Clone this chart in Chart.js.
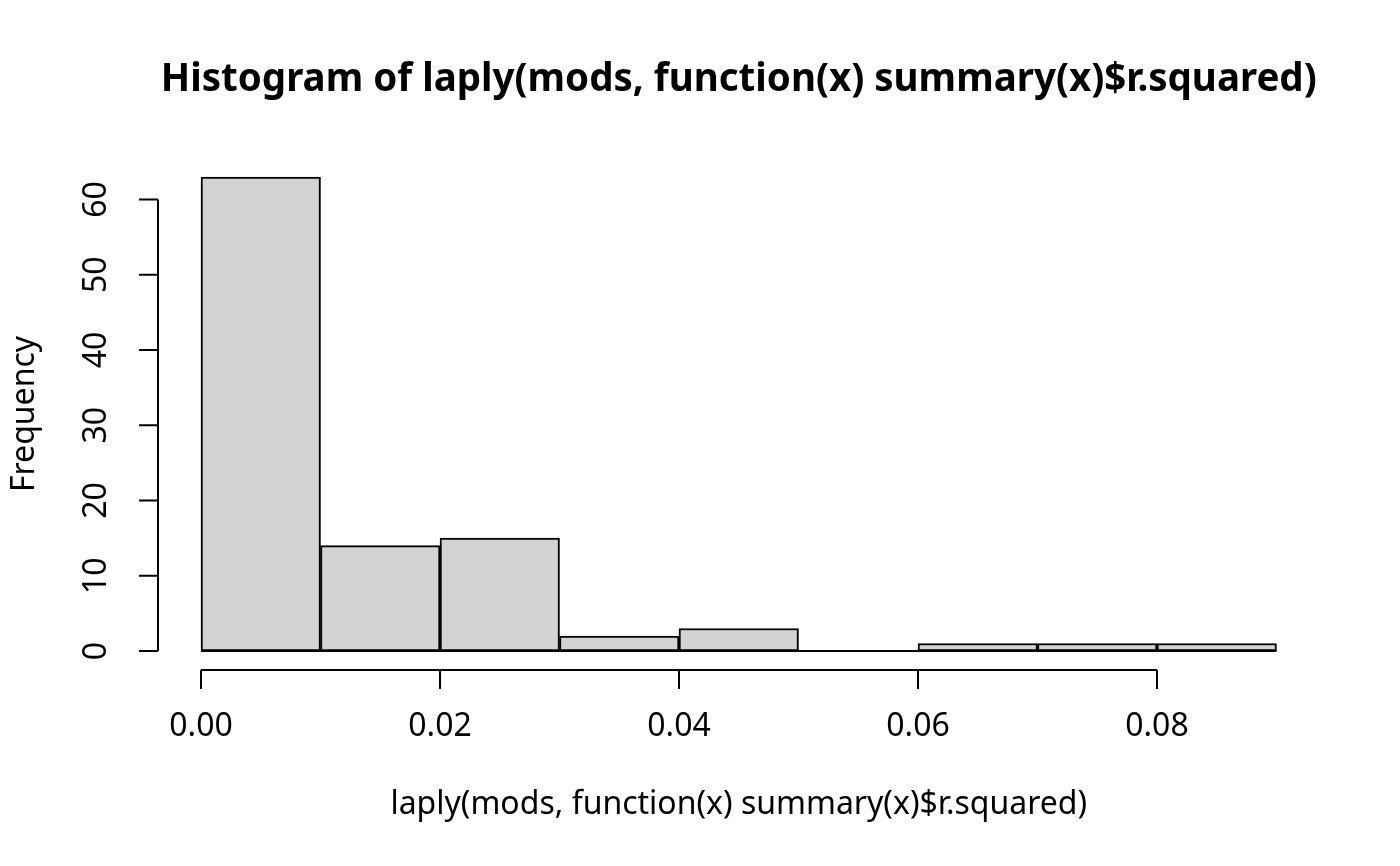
<!DOCTYPE html>
<html>
<head>
<meta charset="utf-8">
<script src="https://cdn.jsdelivr.net/npm/chart.js@4.4.1/dist/chart.umd.min.js"></script>
<style>
  html, body { margin: 0; padding: 0; background: #fff; }
  canvas { display: block; }
</style>
</head>
<body>
<canvas id="hist" width="1400" height="866"></canvas>
<script>
// histogram bins (width 0.01) and counts
const binStarts = [0.00, 0.01, 0.02, 0.03, 0.04, 0.05, 0.06, 0.07, 0.08]
const counts = [63, 14, 15, 2, 3, 0, 1, 1, 1]
const binWidth = 0.01

const xTicks = [0.00, 0.02, 0.04, 0.06, 0.08]
const yTicks = [0, 10, 20, 30, 40, 50, 60]

const mainTitle = "Histogram of laply(mods, function(x) summary(x)$r.squared)"
const xTitle = "laply(mods, function(x) summary(x)$r.squared)"
const yTitle = "Frequency"

const FONT = "'Noto Sans', 'Open Sans', sans-serif"
const axisSize = 32
const titleSize = 38.5

// R pads the data range by 4% on each side
const xLo = binStarts[0], xHi = binStarts[binStarts.length - 1] + binWidth
const yLo = 0, yHi = Math.max(...counts)
const xPad = (xHi - xLo) * 0.04, yPad = (yHi - yLo) * 0.04

const points = binStarts.map((s, i) => ({ x: s + binWidth / 2, y: counts[i] }))

const rAxes = {
  id: 'rAxes',
  afterDraw(chart) {
    const ctx = chart.ctx
    const area = chart.chartArea
    const xs = chart.scales.x
    const ys = chart.scales.y
    const tick = 19

    ctx.save()
    ctx.strokeStyle = '#000'
    ctx.fillStyle = '#000'
    ctx.lineWidth = 2

    // baseline under empty bins
    ctx.beginPath()
    ctx.moveTo(xs.getPixelForValue(xLo), ys.getPixelForValue(0))
    ctx.lineTo(xs.getPixelForValue(xHi), ys.getPixelForValue(0))
    ctx.stroke()

    // x axis
    const yb = area.bottom
    ctx.beginPath()
    ctx.moveTo(xs.getPixelForValue(xTicks[0]), yb)
    ctx.lineTo(xs.getPixelForValue(xTicks[xTicks.length - 1]), yb)
    for (const t of xTicks) {
      const px = xs.getPixelForValue(t)
      ctx.moveTo(px, yb)
      ctx.lineTo(px, yb + tick)
    }
    ctx.stroke()
    ctx.font = axisSize + 'px ' + FONT
    ctx.textAlign = 'center'
    ctx.textBaseline = 'middle'
    for (const t of xTicks) {
      ctx.fillText(t.toFixed(2), xs.getPixelForValue(t), yb + 57)
    }

    // y axis
    const xl = area.left
    ctx.beginPath()
    ctx.moveTo(xl, ys.getPixelForValue(yTicks[0]))
    ctx.lineTo(xl, ys.getPixelForValue(yTicks[yTicks.length - 1]))
    for (const t of yTicks) {
      const py = ys.getPixelForValue(t)
      ctx.moveTo(xl, py)
      ctx.lineTo(xl - tick, py)
    }
    ctx.stroke()
    for (const t of yTicks) {
      ctx.save()
      ctx.translate(xl - 61, ys.getPixelForValue(t))
      ctx.rotate(-Math.PI / 2)
      ctx.fillText(String(t), 0, 0)
      ctx.restore()
    }

    // titles
    const cx = (area.left + area.right) / 2
    ctx.fillText(xTitle, cx, 805)
    ctx.save()
    ctx.translate(25, (area.top + area.bottom) / 2)
    ctx.rotate(-Math.PI / 2)
    ctx.fillText(yTitle, 0, 0)
    ctx.restore()
    ctx.font = 'bold ' + titleSize + 'px ' + FONT
    ctx.fillText(mainTitle, cx, 80)
    ctx.restore()
  }
}

new Chart('hist', {
  type: 'bar',
  data: {
    datasets: [{
      data: points,
      backgroundColor: '#d3d3d3',
      borderColor: '#000',
      borderWidth: 2,
      borderSkipped: false,
      barPercentage: 1,
      categoryPercentage: 1
    }]
  },
  options: {
    responsive: false,
    animation: false,
    devicePixelRatio: 1,
    layout: { padding: { left: 158, top: 158, right: 80.5, bottom: 196 } },
    scales: {
      x: { type: 'linear', offset: false, min: xLo - xPad, max: xHi + xPad, display: false },
      y: { type: 'linear', min: yLo - yPad, max: yHi + yPad, display: false }
    },
    plugins: {
      legend: { display: false },
      tooltip: { enabled: false },
      title: { display: false }
    }
  },
  plugins: [rAxes]
})
</script>
</body>
</html>
